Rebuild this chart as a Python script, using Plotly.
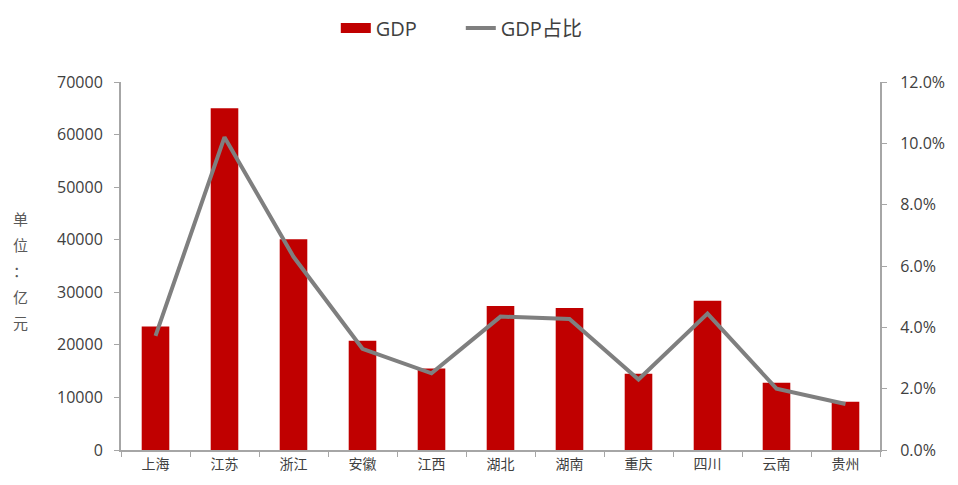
import plotly.graph_objects as go

# Provincial GDP (100 million yuan) and share of national GDP
provinces = ["上海", "江苏", "浙江", "安徽", "江西", "湖北", "湖南", "重庆", "四川", "云南", "贵州"]
gdp = [23500, 65000, 40100, 20800, 15500, 27400, 27000, 14500, 28400, 12800, 9200]
gdp_share = [0.0372, 0.102, 0.063, 0.033, 0.025, 0.0435, 0.0427, 0.023, 0.0445, 0.020, 0.015]

left_ticks = [0, 10000, 20000, 30000, 40000, 50000, 60000, 70000]
right_ticks = [0, 0.02, 0.04, 0.06, 0.08, 0.10, 0.12]
unit_label = ["单", "位", "：", "亿", "元"]

bar_color = "#c00000"
line_color = "#7f7f7f"
axis_color = "#a6a6a6"
text_color = "#404040"
tick_font = dict(family="Open Sans, Liberation Sans, sans-serif", size=16, color=text_color)

fig = go.Figure()
fig.add_trace(go.Bar(
    x=provinces, y=gdp, name="GDP",
    marker=dict(color=bar_color, line=dict(width=0)),
    yaxis="y", showlegend=False,
))
# Legend key for the bars drawn as a thick wide swatch
fig.add_trace(go.Scatter(
    x=[None], y=[None], name="GDP", mode="lines",
    line=dict(color=bar_color, width=12), yaxis="y",
))
fig.add_trace(go.Scatter(
    x=provinces, y=gdp_share, name="GDP占比",
    mode="lines", line=dict(color=line_color, width=4),
    yaxis="y2",
))

fig.update_layout(
    width=958, height=485,
    margin=dict(l=121, r=78, t=82, b=35, autoexpand=False),
    plot_bgcolor="white", paper_bgcolor="white",
    bargap=0.6,
    showlegend=True,
    legend=dict(
        orientation="h", x=0.283, xanchor="left", y=1.147, yanchor="middle",
        font=dict(family="Open Sans, Noto Sans CJK SC, sans-serif", size=20, color=text_color),
        entrywidth=80, traceorder="normal",
    ),
    xaxis=dict(
        showline=True, linecolor=axis_color, linewidth=2,
        ticks="outside", tickson="boundaries", ticklen=5, tickcolor=axis_color,
        tickfont=dict(family="Noto Sans CJK SC, sans-serif", size=14, color=text_color),
        showgrid=False,
    ),
    yaxis=dict(
        range=[0, 70000], tickvals=left_ticks, ticktext=[str(v) for v in left_ticks],
        showline=True, linecolor=axis_color, linewidth=2,
        ticks="outside", ticklen=5, tickcolor=axis_color, ticklabelstandoff=8,
        tickfont=tick_font, showgrid=False, zeroline=False,
    ),
    yaxis2=dict(
        range=[0, 0.12], tickvals=right_ticks, tickformat=".1%",
        overlaying="y", side="right",
        showline=True, linecolor=axis_color, linewidth=2,
        ticks="outside", ticklen=5, tickcolor=axis_color, ticklabelstandoff=10,
        tickfont=tick_font, showgrid=False, zeroline=False,
    ),
)

# Vertical unit label on the left, one character per row
for i, ch in enumerate(unit_label):
    fig.add_annotation(
        text=ch, xref="paper", yref="paper",
        x=-0.133, y=0.63 - i * 0.071, xanchor="center", yanchor="middle",
        showarrow=False,
        font=dict(family="Noto Sans CJK SC, sans-serif", size=15, color="#595959"),
    )

fig.write_html("out.html")
